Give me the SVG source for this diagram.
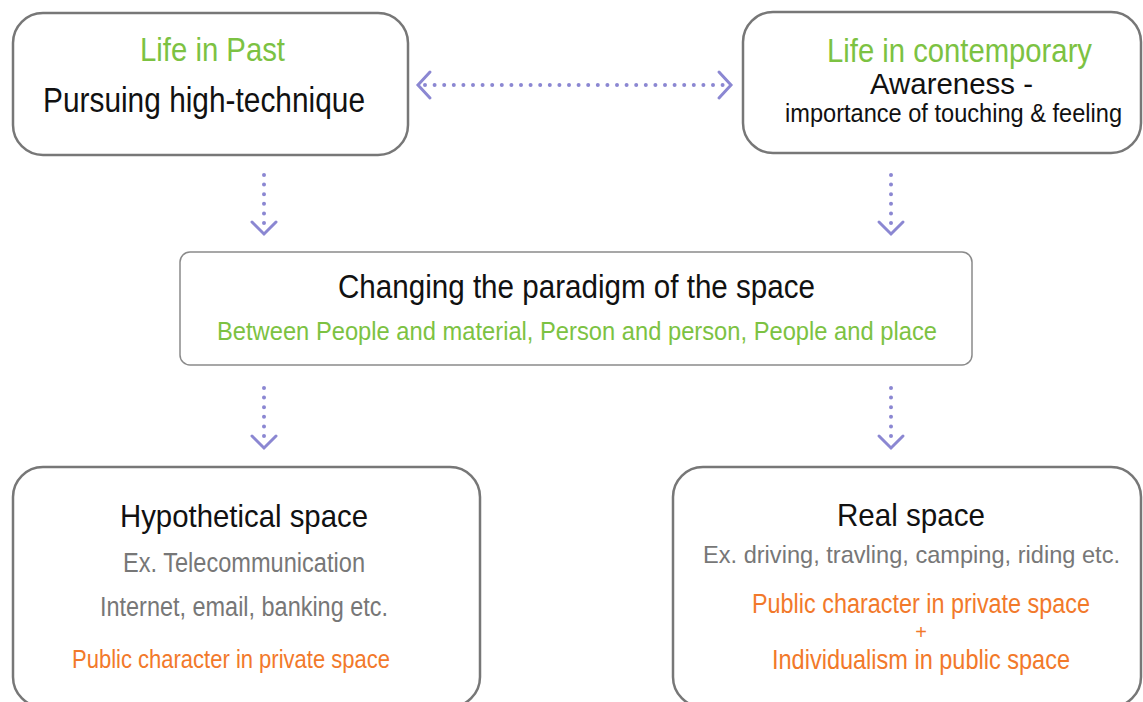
<svg xmlns="http://www.w3.org/2000/svg" width="1143" height="702" viewBox="0 0 1143 702">
<style>
  text { font-family: "Liberation Sans", Arial, sans-serif; }
  .box { fill: #ffffff; stroke: #777777; stroke-width: 2.5; }
  .boxthin { fill: #ffffff; stroke: #8a8a8a; stroke-width: 1.5; }
  .green { fill: #7cc242; }
  .black { fill: #111111; }
  .gray { fill: #777777; }
  .orange { fill: #f2792a; }
  .dots { fill: none; stroke: #8b87d2; stroke-width: 4; stroke-linecap: round; stroke-dasharray: 0 9.6; }
  .chev { fill: none; stroke: #8b87d2; stroke-width: 3; stroke-linecap: round; stroke-linejoin: miter; }
</style>
<rect width="1143" height="702" fill="#ffffff"/>

<g id="connectors">
  <g id="c-past-contemp">
    <line class="dots" x1="425" y1="85" x2="726" y2="85"/>
    <polyline class="chev" points="430,72 418,85 430,98"/>
    <polyline class="chev" points="719,72 731,85 719,98"/>
  </g>
  <g id="c-past-paradigm">
    <line class="dots" x1="264" y1="175" x2="264" y2="224"/>
    <polyline class="chev" points="252,222 264,234 276,222"/>
  </g>
  <g id="c-contemp-paradigm">
    <line class="dots" x1="891" y1="175" x2="891" y2="224"/>
    <polyline class="chev" points="879,222 891,234 903,222"/>
  </g>
  <g id="c-paradigm-hypo">
    <line class="dots" x1="264" y1="388" x2="264" y2="437"/>
    <polyline class="chev" points="252,436 264,448 276,436"/>
  </g>
  <g id="c-paradigm-real">
    <line class="dots" x1="891" y1="388" x2="891" y2="437"/>
    <polyline class="chev" points="879,436 891,448 903,436"/>
  </g>
</g>

<g id="node-past">
  <rect class="box" x="13" y="13" width="395" height="142" rx="30"/>
  <text class="green" x="140" y="61" font-size="34" textLength="145" lengthAdjust="spacingAndGlyphs">Life in Past</text>
  <text class="black" x="43" y="112" font-size="35" textLength="322" lengthAdjust="spacingAndGlyphs">Pursuing high-technique</text>
</g>

<g id="node-contemporary">
  <rect class="box" x="743" y="12" width="398" height="141" rx="30"/>
  <text class="green" x="827" y="62" font-size="34" textLength="265" lengthAdjust="spacingAndGlyphs">Life in contemporary</text>
  <text class="black" x="870" y="94" font-size="30" textLength="163" lengthAdjust="spacingAndGlyphs">Awareness -</text>
  <text class="black" x="785" y="122" font-size="25" textLength="337" lengthAdjust="spacingAndGlyphs">importance of touching &amp; feeling</text>
</g>

<g id="node-paradigm">
  <rect class="boxthin" x="180" y="252" width="792" height="113" rx="10"/>
  <text class="black" x="338" y="298" font-size="34" textLength="477" lengthAdjust="spacingAndGlyphs">Changing the paradigm of the space</text>
  <text class="green" x="217" y="340" font-size="26" textLength="720" lengthAdjust="spacingAndGlyphs">Between People and material, Person and person, People and place</text>
</g>

<g id="node-hypothetical">
  <rect class="box" x="13" y="467" width="467" height="240" rx="30"/>
  <text class="black" x="120" y="527" font-size="32" textLength="248" lengthAdjust="spacingAndGlyphs">Hypothetical space</text>
  <text class="gray" x="123" y="572" font-size="27" textLength="242" lengthAdjust="spacingAndGlyphs">Ex. Telecommunication</text>
  <text class="gray" x="100" y="616" font-size="27" textLength="288" lengthAdjust="spacingAndGlyphs">Internet, email, banking etc.</text>
  <text class="orange" x="72" y="668" font-size="26" textLength="318" lengthAdjust="spacingAndGlyphs">Public character in private space</text>
</g>

<g id="node-real">
  <rect class="box" x="673" y="467" width="468" height="240" rx="30"/>
  <text class="black" x="837" y="526" font-size="32" textLength="148" lengthAdjust="spacingAndGlyphs">Real space</text>
  <text class="gray" x="703" y="563" font-size="24.8" textLength="417" lengthAdjust="spacingAndGlyphs">Ex. driving, travling, camping, riding etc.</text>
  <text class="orange" x="752" y="613" font-size="27" textLength="338" lengthAdjust="spacingAndGlyphs">Public character in private space</text>
  <text class="orange" x="921" y="639" font-size="20" text-anchor="middle">+</text>
  <text class="orange" x="772" y="669" font-size="28" textLength="298" lengthAdjust="spacingAndGlyphs">Individualism in public space</text>
</g>
</svg>
